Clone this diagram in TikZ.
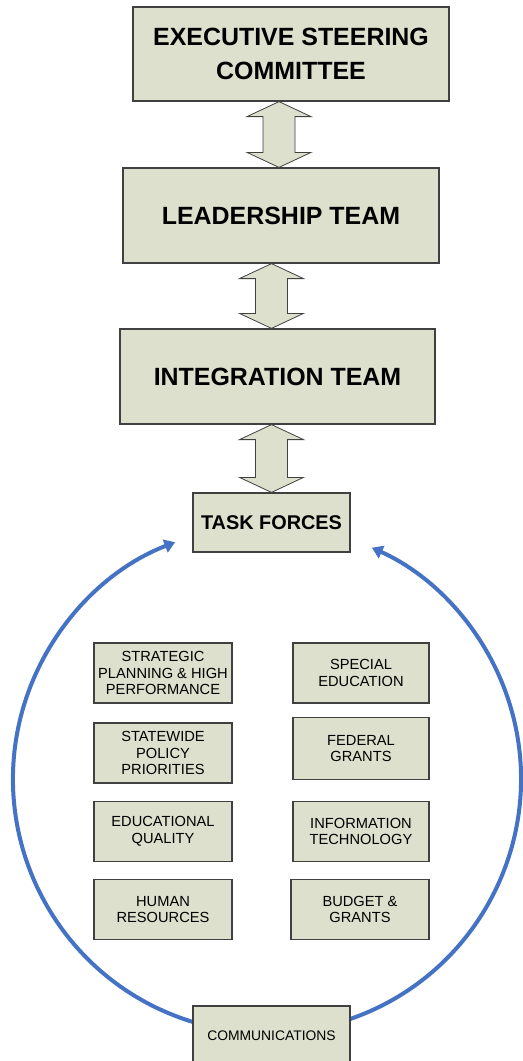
\documentclass[tikz,border=0pt]{standalone}
\usepackage{fontspec}
\setmainfont{Liberation Sans}
\usetikzlibrary{arrows.meta}
\usetikzlibrary{calc}

\definecolor{boxfill}{RGB}{221,224,204}
\definecolor{boxline}{RGB}{64,64,64}
\definecolor{ringblue}{RGB}{68,114,196}

\tikzset{
  unit/.style={draw=boxline, fill=boxfill, line width=0.9pt, align=center, inner sep=0pt},
  bigbox/.style={unit, font=\fontsize{18.7}{26}\selectfont\bfseries},
  tfbox/.style={unit, font=\fontsize{14.9}{18}\selectfont\bfseries, minimum width=117.75pt, minimum height=44.25pt},
  smallbox/.style={unit, font=\fontsize{11}{12.5}\selectfont, minimum width=103.5pt, minimum height=45pt},
  blockarrow/.style={draw=boxline, fill=boxfill, line width=0.6pt, line join=miter},
  ringarrow/.style={draw=ringblue, line width=3pt, -{Triangle[length=8pt,width=10pt]}}
}

% up-down block arrow: name, x, upper box, lower box
\newcommand{\updown}[4]{%
  \coordinate (#1) at (#2,0);
  \draw[blockarrow] (#1 |- #3.south) -- ++(32,15) -- ++(-16,0) -- ($(#1 |- #4.north)+(16,-15)$) -- ++(16,0) -- (#1 |- #4.north) -- ++(-32,-15) -- ++(16,0) -- ($(#1 |- #3.south)+(-16,15)$) -- ++(-16,0) -- cycle;}

\begin{document}
\begin{tikzpicture}[x=0.75pt,y=0.75pt,yscale=-1,xscale=1]
\useasboundingbox (0,0) rectangle (523,1061);

%Shape: Ring arrows round the task forces
\coordinate (ring) at (267,779);
\draw[ringarrow] ($(ring)+(107:254)$) arc[start angle=107, end angle=248.8, radius=254];
\draw[ringarrow] ($(ring)+(71:254)$) arc[start angle=71, end angle=-65.6, radius=254];

%Shape: Team boxes
\node[bigbox, minimum width=237pt, minimum height=70.5pt] (exec) at (291,54) {EXECUTIVE STEERING\\COMMITTEE};
\node[bigbox, minimum width=237pt, minimum height=71.25pt] (lead) at (281,215.5) {LEADERSHIP TEAM};
\node[bigbox, minimum width=236.25pt, minimum height=71.25pt] (integ) at (277.5,376.5) {INTEGRATION TEAM};
\node[tfbox] (tforce) at (271.5,522.5) {TASK FORCES};
\node[tfbox, font=\fontsize{10.4}{12}\selectfont] (comm) at (271.5,1035.5) {COMMUNICATIONS};

%Shape: Task force boxes
\node[smallbox] (plan) at (163,673) {STRATEGIC\\PLANNING \& HIGH\\PERFORMANCE};
\node[smallbox] (policy) at (163,753) {STATEWIDE\\POLICY\\PRIORITIES};
\node[smallbox] (quality) at (163,831.5) {EDUCATIONAL\\QUALITY};
\node[smallbox] (hr) at (163,909.5) {HUMAN\\RESOURCES};
\node[smallbox, minimum width=102pt] (sped) at (361,673) {SPECIAL\\EDUCATION};
\node[smallbox, minimum width=102pt, minimum height=46.5pt] (grants) at (361,748.5) {FEDERAL\\GRANTS};
\node[smallbox, minimum width=102pt] (infotech) at (361,831.5) {INFORMATION\\TECHNOLOGY};
\node[smallbox] (budget) at (360,909.5) {BUDGET \&\\GRANTS};

%Shape: Block arrows between teams
\updown{ax1}{279}{exec}{lead}
\updown{ax2}{271.5}{lead}{integ}
\updown{ax3}{271.5}{integ}{tforce}

\end{tikzpicture}
\end{document}
